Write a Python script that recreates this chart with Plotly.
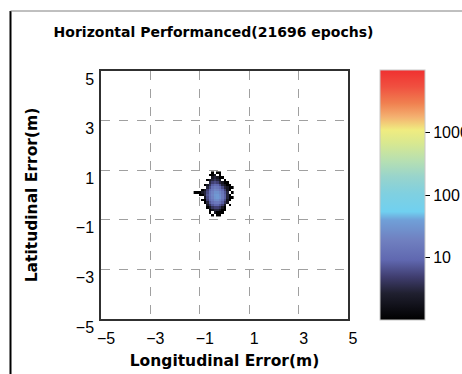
import numpy as np
import plotly.graph_objects as go

# 2D histogram of horizontal errors (counts per 0.1 m bin)
x_centers = [-1.2, -1.1, -1.0, -0.9, -0.8, -0.7, -0.6, -0.5, -0.4, -0.3, -0.2, -0.1, 0.0, 0.1, 0.2, 0.3]
y_centers = [0.9, 0.8, 0.7, 0.6, 0.5, 0.4, 0.3, 0.2, 0.1, 0.0, -0.1, -0.2, -0.3, -0.4, -0.5, -0.6, -0.7, -0.8]
counts = [
    [0, 0, 0, 0, 0, 0, 0, 1, 0, 1, 1, 0, 0, 0, 0, 0],
    [0, 0, 0, 0, 0, 0, 1, 1, 2, 0, 1, 0, 0, 0, 0, 0],
    [0, 0, 0, 0, 0, 0, 0, 2, 3, 2, 1, 1, 0, 0, 0, 0],
    [0, 0, 0, 0, 0, 1, 2, 3, 4, 3, 2, 0, 1, 0, 0, 0],
    [0, 0, 0, 0, 0, 0, 3, 5, 6, 5, 3, 2, 1, 1, 0, 0],
    [0, 0, 0, 0, 1, 2, 4, 8, 10, 9, 6, 3, 2, 1, 1, 0],
    [0, 0, 0, 0, 0, 3, 6, 12, 16, 14, 10, 6, 3, 2, 1, 1],
    [0, 0, 0, 1, 2, 5, 9, 16, 22, 20, 15, 9, 5, 2, 1, 0],
    [1, 1, 1, 2, 3, 6, 12, 20, 28, 28, 22, 14, 7, 3, 0, 1],
    [0, 0, 1, 1, 3, 7, 13, 22, 32, 34, 26, 16, 8, 3, 1, 0],
    [0, 0, 0, 0, 2, 6, 12, 20, 30, 34, 28, 16, 8, 3, 1, 1],
    [0, 0, 0, 1, 1, 5, 10, 16, 24, 26, 20, 12, 6, 2, 1, 0],
    [0, 0, 0, 0, 1, 3, 7, 11, 15, 16, 13, 8, 4, 2, 0, 0],
    [0, 0, 0, 0, 0, 2, 4, 7, 9, 9, 7, 5, 2, 0, 1, 0],
    [0, 0, 0, 0, 0, 1, 2, 4, 5, 5, 4, 2, 1, 0, 0, 0],
    [0, 0, 0, 0, 0, 0, 1, 2, 3, 3, 2, 1, 1, 0, 0, 0],
    [0, 0, 0, 0, 0, 0, 1, 0, 2, 1, 1, 1, 0, 0, 0, 0],
    [0, 0, 0, 0, 0, 0, 0, 1, 0, 1, 1, 0, 0, 0, 0, 0],
]
axis_ticks = [-5, -3, -1, 1, 3, 5]
cbar_tickvals = [1, 2, 3]
cbar_ticktext = ["10", "100", "1000"]
title_text = "Horizontal Performanced(21696 epochs)"

colorscale = [
    [0.0, "#000000"], [0.107, "#202030"], [0.173, "#403e70"], [0.24, "#6068b0"],
    [0.32, "#7080c0"], [0.40, "#70a0d8"], [0.433, "#70d0f0"], [0.507, "#80d0e0"],
    [0.573, "#98d4cc"], [0.64, "#b8e0b0"], [0.707, "#d8e890"], [0.76, "#f0ec80"],
    [0.813, "#f4b070"], [0.867, "#f08050"], [0.933, "#f05040"], [1.0, "#f03030"],
]

z = [[np.log10(c) if c > 0 else None for c in row] for row in counts]

tick_font = dict(family="Liberation Sans Narrow, Liberation Sans", size=16, color="black")

fig = go.Figure(go.Heatmap(
    x=x_centers, y=y_centers, z=z, zmin=0, zmax=4,
    colorscale=colorscale, hoverongaps=False,
    colorbar=dict(
        x=(380 - 101) / 247, xanchor="left", xref="paper",
        y=0.5, yanchor="middle", yref="paper",
        thickness=45, thicknessmode="pixels", len=250, lenmode="pixels",
        tickvals=cbar_tickvals, ticktext=cbar_ticktext,
        ticks="outside", ticklen=5, tickcolor="black",
        tickfont=tick_font,
        outlinewidth=1, outlinecolor="#c8c8c8", xpad=0, ypad=0,
    ),
))

axis_common = dict(
    range=[-5, 5], tickvals=axis_ticks, ticks="", showgrid=True,
    gridcolor="#a0a0a0", griddash="dash", gridwidth=1,
    showline=True, linecolor="#303030", linewidth=1.5, mirror=True,
    zeroline=False, automargin=False,
    tickfont=tick_font,
    title_font=dict(family="DejaVu Sans", size=15.5, color="black"),
)

fig.update_layout(
    width=462, height=374,
    margin=dict(l=101, r=114, t=71, b=55, autoexpand=False),
    paper_bgcolor="white", plot_bgcolor="white",
    title=dict(text="<b>" + title_text + "</b>", x=(213.5 - 101) / 247, xref="paper",
               xanchor="center", y=1 - 32 / 374, yref="container", yanchor="middle",
               font=dict(family="DejaVu Sans", size=14, color="black")),
    xaxis=dict(**axis_common, title=dict(text="<b>Longitudinal Error(m)</b>", standoff=9),
               ticklabelshift=5, ticklabelstandoff=4),
    yaxis=dict(**axis_common, title=dict(text="<b>Latitudinal Error(m)</b>", standoff=34),
               ticklabelshift=8, ticklabelstandoff=2),
    shapes=[
        dict(type="line", xref="paper", yref="paper", x0=(10.5 - 101) / 247, x1=(10.5 - 101) / 247,
             y0=(319 - 11) / 248, y1=(319 - 380) / 248, line=dict(color="black", width=2)),
        dict(type="line", xref="paper", yref="paper", x0=(10.5 - 101) / 247, x1=(470 - 101) / 247,
             y0=(319 - 11) / 248, y1=(319 - 11) / 248, line=dict(color="#808080", width=1)),
    ],
)

fig.write_html("out.html")
